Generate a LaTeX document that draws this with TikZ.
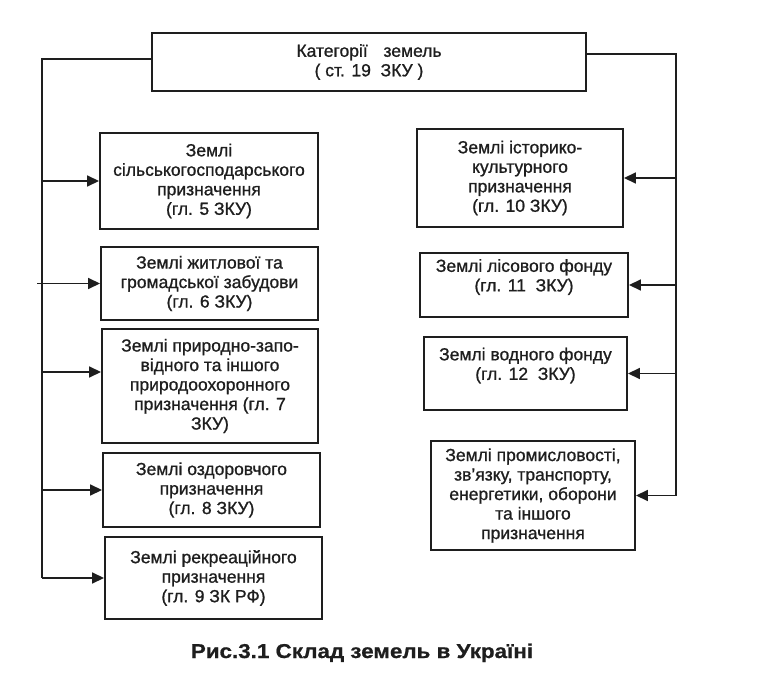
\documentclass[tikz,border=0pt]{standalone}
\usepackage{fontspec}
\setmainfont{Liberation Sans}
\newfontfamily\boxfamily{Liberation Sans}[FakeBold=1.0]
\newfontfamily\capfamily{Liberation Sans}[FakeStretch=1.12, FakeBold=0.8]
\usepackage{tikz}
\usetikzlibrary{arrows.meta, positioning}
\definecolor{myink}{RGB}{30,30,30}
\newcommand{\boxfont}{\boxfamily\fontsize{17.5}{19.5}\selectfont}
\newcommand{\capfont}{\capfamily\bfseries\fontsize{20}{24}\selectfont}
\tikzset{
  landbox/.style={rectangle, draw=myink, text=myink, align=center,
    inner sep=0pt, font=\boxfont, line width=1.9pt},
  arrow/.style={-{Triangle[length=12pt,width=11pt]}, line width=1.6pt, color=myink},
  line/.style={line width=1.6pt, color=myink}
}

\begin{document}
\begin{tikzpicture}[x=1pt, y=-1pt]
  \useasboundingbox (0,0) rectangle (769,682);
  % Top box
  \node[landbox, minimum width=434pt, minimum height=58pt] (cat) at (369,62)
       {Категорії\hspace{0.9em}земель\\( ст. 19\ \ ЗКУ )};
  % Left column
  \node[landbox, minimum width=218pt, minimum height=96pt] (agri) at (209,181)
       {Землі\\сільськогосподарського\\призначення\\(гл. 5 ЗКУ)};
  \node[landbox, minimum width=217pt, minimum height=73pt] (housing) at (209.5,283.5)
       {Землі житлової та\\громадської забудови\\(гл. 6 ЗКУ)};
  \node[landbox, minimum width=216pt, minimum height=114pt] (reserve) at (210,386)
       {Землі природно-запо-\\відного та іншого\\природоохоронного\\призначення (гл. 7\\ЗКУ)};
  \node[landbox, minimum width=217pt, minimum height=74pt] (health) at (211.5,490)
       {Землі оздоровчого\\призначення\\(гл. 8 ЗКУ)};
  \node[landbox, minimum width=217pt, minimum height=82pt] (recreation) at (213.5,578)
       {Землі рекреаційного\\призначення\\(гл. 9 ЗК РФ)};
  % Right column
  \node[landbox, minimum width=206pt, minimum height=98pt] (heritage) at (520,178)
       {Землі історико-\\культурного\\призначення\\(гл. 10 ЗКУ)};
  \node[landbox, minimum width=208pt, minimum height=64pt] (forest) at (524,285)
       {Землі лісового фонду\\(гл. 11\ \ ЗКУ)\\\mbox{}};
  \node[landbox, minimum width=203pt, minimum height=73pt] (water) at (525.5,373.5)
       {Землі водного фонду\\(гл. 12\ \ ЗКУ)\\\mbox{}};
  \node[landbox, minimum width=204pt, minimum height=109pt] (industry) at (533,495.5)
       {Землі промисловості,\\зв’язку, транспорту,\\енергетики, оборони\\та іншого\\призначення};
  % Caption
  \node[font=\capfont, text=myink, anchor=base] (caption) at (362,658)
       {Рис.3.1 Склад земель в Україні};

  % Spines
  \coordinate (ltop) at (42,59);
  \coordinate (rtop) at (676,54);
  \coordinate (reservein) at ([yshift=14pt]reserve.west);
  \draw[line] (cat.west |- ltop) -- (ltop) -- (ltop |- recreation.west);
  \draw[line] (cat.east |- rtop) -- (rtop) -- (rtop |- industry.east);
  % Left arrows
  \draw[arrow] (ltop |- agri.west) -- (agri.west);
  \draw[arrow] ([xshift=-5pt]ltop |- housing.west) -- (housing.west);
  \draw[arrow] (ltop |- reservein) -- (reservein);
  \draw[arrow] (ltop |- health.west) -- (health.west);
  \draw[arrow] (ltop |- recreation.west) -- (recreation.west);
  % Right arrows
  \draw[arrow] (rtop |- heritage.east) -- (heritage.east);
  \draw[arrow] (rtop |- forest.east) -- (forest.east);
  \draw[arrow] (rtop |- water.east) -- (water.east);
  \draw[arrow] (rtop |- industry.east) -- (industry.east);
\end{tikzpicture}
\end{document}
